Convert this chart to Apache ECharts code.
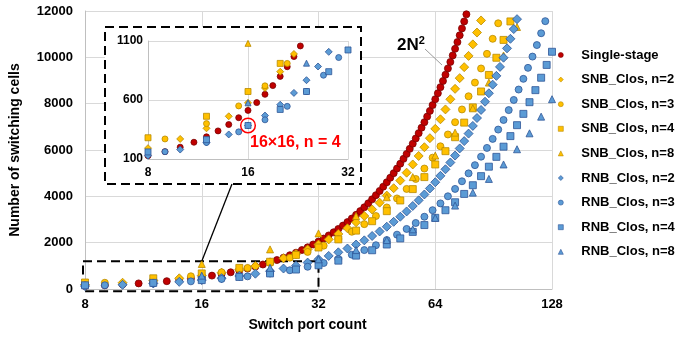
<!DOCTYPE html>
<html><head><meta charset="utf-8">
<script src="https://cdn.jsdelivr.net/npm/echarts@6/dist/echarts.min.js"></script>
<style>html,body{margin:0;padding:0;background:#fff}#c{width:678px;height:337px}</style>
</head><body><div id="c"></div>
<script>
// ---------- data ----------
const xTicks = [8, 16, 32, 64, 128];
const insetXTicks = [8, 16, 32];
const insetYTicks = [100, 600, 1100];

const singleN = [8,9,10,11,12,13,14,15,16,17,18,19,20,21,22,23,24,25,26,27,28,29,30,31,32,33,34,35,36,37,38,39,40,41,42,43,44,45,46,47,48,49,50,51,52,53,54,55,56,57,58,59,60,61,62,63,64,65,66,67,68,69,70,71,72,73,74,75,76,77];
const singleVal = [128,162,200,242,288,338,392,450,512,578,648,722,800,882,968,1058,1152,1250,1352,1458,1568,1682,1800,1922,2048,2178,2312,2450,2592,2738,2888,3042,3200,3362,3528,3698,3872,4050,4232,4418,4608,4802,5000,5202,5408,5618,5832,6050,6272,6498,6728,6962,7200,7442,7688,7938,8192,8450,8712,8978,9248,9522,9800,10082,10368,10658,10952,11250,11552,11858];

const snb2N = [8,10,12,14,16,18,20,22,24,26,28,30,32,34,36,38,40,42,44,46,48,50,52,54,56,58,60,62,64,66,68,70,72,74,76,78,80,82,84];
const snb2Val = [192,270,360,462,576,702,840,990,1152,1326,1512,1710,1920,2142,2376,2622,2880,3150,3432,3726,4032,4350,4680,5022,5376,5742,6120,6510,6912,7326,7752,8190,8640,9102,9576,10062,10560,11070,11592];

const snb3N = [9,12,15,18,21,24,27,30,33,36,39,42,45,48,51,54,57,60,63,66,69,72,75,78,81,84,87,90,93];
const snb3Val = [270,400,550,720,910,1120,1350,1600,1870,2160,2470,2800,3150,3520,3910,4320,4750,5200,5670,6160,6670,7200,7750,8320,8910,9520,10150,10800,11470];

const snb4N = [8,12,16,20,24,28,32,36,40,44,48,52,56,60,64,68,72,76,80,84,88,92,96,100];
const snb4Val = [280,462,672,910,1176,1470,1792,2142,2520,2926,3360,3822,4312,4830,5376,5950,6552,7182,7840,8526,9240,9982,10752,11550];

const snb8N = [16,24,32,40,48,56,64,72,80,88,96,104];
const snb8Val = [1080,1710,2400,3150,3960,4830,5760,6750,7800,8910,10080,11310];

const rnb2N = [8,10,12,14,16,18,20,22,24,26,28,30,32,34,36,38,40,42,44,46,48,50,52,54,56,58,60,62,64,66,68,70,72,74,76,78,80,82,84,86,88,90,92,94,96,98,100,102,104];
const rnb2Val = [128,180,240,308,384,468,560,660,768,884,1008,1140,1280,1428,1584,1748,1920,2100,2288,2484,2688,2900,3120,3348,3584,3828,4080,4340,4608,4884,5168,5460,5760,6068,6384,6708,7040,7380,7728,8084,8448,8820,9200,9588,9984,10388,10800,11220,11648];

const rnb3N = [9,12,15,18,21,24,27,30,33,36,39,42,45,48,51,54,57,60,63,66,69,72,75,78,81,84,87,90,93,96,99,102,105,108,111,114,117,120,123];
const rnb3Val = [162,240,330,432,546,672,810,960,1122,1296,1482,1680,1890,2112,2346,2592,2850,3120,3402,3696,4002,4320,4650,4992,5346,5712,6090,6480,6882,7296,7722,8160,8610,9072,9546,10032,10530,11040,11562];

const rnb4N = [8,12,16,20,24,28,32,36,40,44,48,52,56,60,64,68,72,76,80,84,88,92,96,100,104,108,112,116,120,124,128];
const rnb4Val = [160,264,384,520,672,840,1024,1224,1440,1672,1920,2184,2464,2760,3072,3400,3744,4104,4480,4872,5280,5704,6144,6600,7072,7560,8064,8584,9120,9672,10240];

const rnb8N = [16,24,32,40,48,56,64,72,80,88,96,104,112,120,128];
const rnb8Val = [576,912,1280,1680,2112,2576,3072,3600,4160,4752,5376,6032,6720,7440,8192];

const seriesNames = ['Single-stage','SNB_Clos, n=2','SNB_Clos, n=3','SNB_Clos, n=4','SNB_Clos, n=8','RNB_Clos, n=2','RNB_Clos, n=3','RNB_Clos, n=4','RNB_Clos, n=8'];

// ---------- styling ----------
const RED = {fill:'#C00000', border:'#7A0000'};
const YEL = {fill:'#FFC000', border:'#B88A00'};
const BLU = {fill:'#5B9BD5', border:'#2F5597'};
const defs = [
  {n: singleN, v: singleVal, sym:'circle', c: RED, s:7, si:6},
  {n: snb2N, v: snb2Val, sym:'diamond', c: YEL, s:9, si:7},
  {n: snb3N, v: snb3Val, sym:'circle', c: YEL, s:7, si:6},
  {n: snb4N, v: snb4Val, sym:'rect', c: YEL, s:7, si:6},
  {n: snb8N, v: snb8Val, sym:'triangle', c: YEL, s:7, si:6},
  {n: rnb2N, v: rnb2Val, sym:'diamond', c: BLU, s:9, si:7},
  {n: rnb3N, v: rnb3Val, sym:'circle', c: BLU, s:7, si:6},
  {n: rnb4N, v: rnb4Val, sym:'rect', c: BLU, s:7, si:6},
  {n: rnb8N, v: rnb8Val, sym:'triangle', c: BLU, s:7, si:6}
];

const series = [];
defs.forEach((d, i) => {
  const data = d.n.map((x, k) => [x, d.v[k]]);
  const style = {color: d.c.fill, borderColor: d.c.border, borderWidth: 0.8, opacity: 1};
  series.push({name: seriesNames[i], type:'scatter', xAxisIndex:0, yAxisIndex:0, data,
    symbol: d.sym, symbolSize: d.s, itemStyle: style, z: 2, silent: true, animation:false});
  series.push({name: seriesNames[i], type:'scatter', xAxisIndex:1, yAxisIndex:1, data, clip:true,
    symbol: d.sym, symbolSize: d.si, itemStyle: style, z: 7, silent: true, animation:false});
});

const FONT = 'Liberation Sans, Arial, sans-serif';
const GRID_C = '#D9D9D9';
const plain = v => String(v);
const chart = echarts.init(document.getElementById('c'), null, {renderer:'canvas'});
chart.setOption({
  animation: false,
  textStyle: {fontFamily: FONT},
  grid: [
    {left:84, right:126, top:11, bottom:48},
    {left:148, width:200, top:41, height:118, z:6}
  ],
  xAxis: [
    {type:'log', logBase:2, min:xTicks[0], max:xTicks[xTicks.length-1], gridIndex:0,
     axisLine:{show:true, lineStyle:{color:'#BFBFBF'}}, axisTick:{show:false},
     axisLabel:{color:'#000', fontWeight:'bold', fontSize:13, margin:9, fontFamily:FONT, formatter: plain},
     splitLine:{show:true, lineStyle:{color:GRID_C}},
     name:'Switch port count', nameLocation:'middle', nameGap:29,
     nameTextStyle:{color:'#000', fontWeight:'bold', fontSize:14, fontFamily:FONT, padding:[0,22,0,0]}},
    {type:'log', logBase:2, min:insetXTicks[0], max:insetXTicks[insetXTicks.length-1], gridIndex:1, z:6,
     axisLine:{show:true, lineStyle:{color:'#BFBFBF'}}, axisTick:{show:false},
     axisLabel:{color:'#000', fontWeight:'bold', fontSize:12, margin:8, fontFamily:FONT, formatter: plain},
     splitLine:{show:true, lineStyle:{color:GRID_C}}}
  ],
  yAxis: [
    {type:'value', min:0, max:12000, interval:2000, gridIndex:0,
     axisLine:{show:true, lineStyle:{color:'#BFBFBF'}}, axisTick:{show:false},
     axisLabel:{color:'#000', fontWeight:'bold', fontSize:13, margin:12, fontFamily:FONT, formatter: plain},
     splitLine:{show:true, lineStyle:{color:GRID_C}},
     name:'Number of switching cells', nameLocation:'middle', nameGap:63, nameRotate:90,
     nameTextStyle:{color:'#000', fontWeight:'bold', fontSize:14, fontFamily:FONT}},
    {type:'value', min:insetYTicks[0], max:insetYTicks[insetYTicks.length-1], interval:insetYTicks[1]-insetYTicks[0], gridIndex:1, z:6,
     axisLine:{show:true, lineStyle:{color:'#BFBFBF'}}, axisTick:{show:false},
     axisLabel:{color:'#000', fontWeight:'bold', fontSize:12, margin:5, fontFamily:FONT, formatter: plain},
     splitLine:{show:true, lineStyle:{color:GRID_C}}}
  ],
  legend: {
    orient:'vertical', left:553, top:43, itemWidth:5, itemHeight:5, itemGap:10.6,
    data: seriesNames,
    itemStyle:{borderWidth:0.6},
    textStyle:{color:'#000', fontWeight:'bold', fontSize:13, fontFamily:FONT, lineHeight:14, padding:[0,0,0,13]},
    selectedMode:false
  },
  series
});

// annotations placed through the axes' own scales
const p = (x, y) => chart.convertToPixel({xAxisIndex:0, yAxisIndex:0}, [x, y]);
const q = (x, y) => chart.convertToPixel({xAxisIndex:1, yAxisIndex:1}, [x, y]);
const a = p(8, 1200), b = p(32, -100), c16 = p(16, 1200);
const circ = q(16, 384);
const dash = {stroke:'#000', lineWidth:2, lineDash:[9,5], fill:null};
chart.setOption({
  graphic: [
    {type:'rect', z:1, silent:true, shape:{x:a[0]-2, y:a[1], width:b[0]-a[0]+2, height:b[1]-a[1]}, style:dash},
    {type:'rect', z:5, silent:true, shape:{x:105, y:27, width:256, height:157}, style:{stroke:'#000', lineWidth:2, lineDash:[9,5], fill:'#fff'}},
    {type:'line', z:9, silent:true, shape:{x1:c16[0], y1:c16[1], x2:232, y2:184}, style:{stroke:'#000', lineWidth:1.3}},
    {type:'circle', z:9, silent:true, shape:{cx:circ[0], cy:circ[1], r:7.3}, style:{stroke:'#FF0000', lineWidth:1.5, fill:null}},
    {type:'text', z:9, silent:true, x:250, y:143, style:{text:'16×16, n = 4', fill:'#FF0000', font:'bold 16px '+FONT, verticalAlign:'middle'}},
    {type:'line', z:9, silent:true, shape:{x1:425, y1:49, x2:442, y2:65}, style:{stroke:'#808080', lineWidth:0.8}},
    {type:'text', z:9, silent:true, x:397, y:45, style:{
      text:'{a|2N}{b|2}', verticalAlign:'middle',
      rich:{a:{font:'bold 17px '+FONT, fill:'#000'}, b:{font:'bold 11px '+FONT, fill:'#000', verticalAlign:'top', padding:[0,0,8,0]}}}}
  ]
});
</script></body></html>
